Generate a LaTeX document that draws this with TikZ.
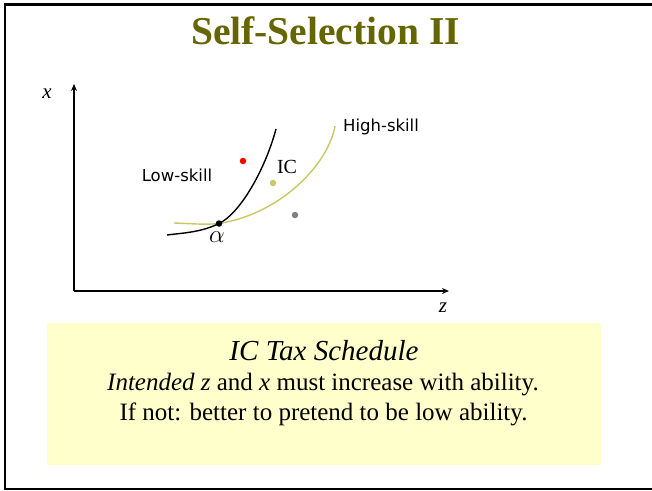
\documentclass[tikz,border=0pt]{standalone}
\usepackage{fontspec}
\usepackage{xcolor}
\usetikzlibrary{positioning, arrows.meta, calc}
\setmainfont{Liberation Serif}
\newfontfamily\skillfont{DejaVu Sans}
\definecolor{titleolive}{HTML}{666600}
\definecolor{highcurve}{HTML}{C8C864}
\definecolor{notepad}{HTML}{FFFFCC}

\begin{document}
\begin{tikzpicture}[x=1pt,y=-1pt,>={Stealth[length=7pt,width=6pt]},
  axis/.style={line width=1.5pt,->},
  curve/.style={line width=1.4pt},
  bundle/.style={circle,fill,inner sep=0pt,minimum size=6.5pt},
  skill/.style={font=\skillfont\fontsize{16.5}{19}\selectfont},
  notetext/.style={font=\fontsize{25}{30}\selectfont,align=center}]
  \useasboundingbox (0,0) rectangle (652,490);
  % slide frame
  \draw[line width=2.5pt] (652,4.5) -- (5,4.5) -- (5,489) -- (652,489);
  \node[text=titleolive,font=\fontsize{39.5}{46}\selectfont\bfseries] (title) at (325.5,31) {Self-Selection II};

  % axes
  \coordinate (O) at (74,291);
  \coordinate (ytop) at (74,84);
  \coordinate (xend) at (449,291);
  \draw[axis] (O) -- (ytop);
  \draw[axis] (O) -- (xend);
  \node[font=\fontsize{21}{24}\selectfont\itshape] (xlab) at (47,94) {x};
  \node[font=\fontsize{21}{24}\selectfont\itshape] (zlab) at (443,308) {z};

  % indifference curves, crossing at alpha
  \coordinate (cross) at (219,223.5);
  \coordinate (highA) at (174,223);
  \coordinate (highB) at (335,126);
  \coordinate (lowA) at (167,235);
  \coordinate (lowB) at (276,129);
  \draw[curve,highcurve] (highA) .. controls (190,223.5) and (205,225) .. (cross)
    .. controls (280,214) and (328,165) .. (highB);
  \draw[curve] (lowA) .. controls (182,233) and (201,232.5) .. (cross)
    .. controls (240,213.5) and (265,170) .. (lowB);
  \node[skill] (low) at (177,175) {Low-skill};
  \node[skill] (high) at (381,127) {High-skill};

  % bundles
  \node[bundle] (alpha) at (cross) {};
  \node[font=\fontsize{27}{29}\selectfont] (alphalab) at (217,237) {$\alpha$};
  \node[bundle,fill=red] (red) at (243,161) {};
  \node[bundle,fill=highcurve] (ic) at (273,183) {};
  \node[font=\fontsize{20}{24}\selectfont] (iclab) at (287,167) {IC};
  \node[bundle,fill=gray] (grey) at (295,215) {};

  % note
  \fill[notepad] (47,323) rectangle (601,465);
  \node[notetext,anchor=base,font=\fontsize{29}{30}\selectfont] (note1) at (324,360) {\textit{IC Tax Schedule}};
  \node[notetext,anchor=base] (note2) at (323,390) {\textit{Intended z} and \textit{x} must increase with ability.};
  \node[notetext,anchor=base] (note3) at (323.5,420) {If not: better to pretend to be low ability.};
\end{tikzpicture}
\end{document}
